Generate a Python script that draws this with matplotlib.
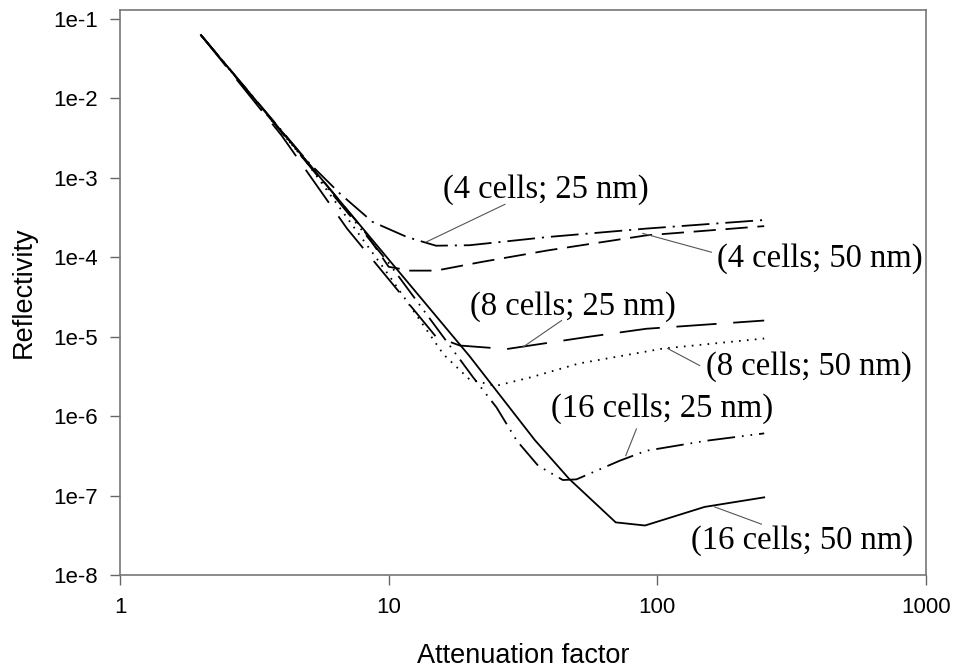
import matplotlib
matplotlib.use("Agg")
import matplotlib.pyplot as plt

# values (attenuation factor vs reflectivity)
x_4_25 = [2, 5, 6.6, 8.7, 11.7, 15, 20, 39, 91, 250]
r_4_25 = [6.3e-2, 1.6e-3, 6.3e-4, 2.8e-4, 1.8e-4, 1.4e-4, 1.42e-4, 1.8e-4, 2.3e-4, 2.95e-4]

x_4_50 = [2, 5, 8, 10, 12, 15, 22, 39, 91, 250]
r_4_50 = [6.3e-2, 1.56e-3, 2.3e-4, 7.6e-5, 6.8e-5, 6.8e-5, 8.7e-5, 1.22e-4, 1.89e-4, 2.47e-4]

x_8_25 = [2, 4, 7, 10, 15, 18.4, 27.5, 54.5, 91, 250]
r_8_25 = [6.3e-2, 3.4e-3, 2.3e-4, 5.3e-5, 1.0e-5, 7.75e-6, 7.0e-6, 9.9e-6, 1.26e-5, 1.6e-5]

x_8_50 = [2, 5, 10, 16, 20, 25, 34, 51, 105, 250]
r_8_50 = [6.3e-2, 1.5e-3, 6.0e-5, 6.0e-6, 2.9e-6, 2.4e-6, 3.1e-6, 4.6e-6, 7.1e-6, 9.5e-6]

x_16_25 = [2, 5, 10, 20.6, 25.2, 30, 36, 44.5, 50, 72.5, 91, 152, 250]
r_16_25 = [6.3e-2, 1.5e-3, 8.5e-5, 3.1e-6, 1.29e-6, 4.9e-7, 2.38e-7, 1.57e-7,
           1.6e-7, 2.75e-7, 3.67e-7, 4.9e-7, 6.07e-7]

x_16_50 = [2, 5, 10, 20, 35, 47, 70, 90, 150, 250]
r_16_50 = [6.3e-2, 1.56e-3, 9.4e-5, 5.7e-6, 5.0e-7, 1.62e-7, 4.6e-8, 4.2e-8, 7.2e-8, 9.5e-8]

labels = ["(4 cells; 25 nm)", "(4 cells; 50 nm)", "(8 cells; 25 nm)",
          "(8 cells; 50 nm)", "(16 cells; 25 nm)", "(16 cells; 50 nm)"]

x_ticks = [1, 10, 100, 1000]
x_tick_labels = ["1", "10", "100", "1000"]
y_ticks = [1e-1, 1e-2, 1e-3, 1e-4, 1e-5, 1e-6, 1e-7, 1e-8]
y_tick_labels = ["1e-1", "1e-2", "1e-3", "1e-4", "1e-5", "1e-6", "1e-7", "1e-8"]

series = [(x_4_25, r_4_25), (x_4_50, r_4_50), (x_8_25, r_8_25),
          (x_8_50, r_8_50), (x_16_25, r_16_25), (x_16_50, r_16_50)]
styles = [(0, (20, 5, 1.5, 5)),
          (0, (16, 7)),
          (0, (29, 12)),
          (0, (1.2, 4.5)),
          (0, (20, 5, 1.2, 5, 1.2, 5)),
          "-"]

# label text centre, leader start, leader end (data coords)
notes = [((38.4, 7.2e-4), (27.1, 4.65e-4), (13.8, 1.56e-4)),
         ((402, 9.7e-5), (159, 1.16e-4), (88.3, 2.0e-4)),
         ((48.4, 2.4e-5), (44, 1.6e-5), (31.6, 7.4e-6)),
         ((366, 4.2e-6), (143.8, 4.34e-6), (109.3, 7.1e-6)),
         ((104.3, 1.26e-6), (83.6, 6.9e-7), (76.3, 3.18e-7)),
         ((346, 2.69e-8), (244, 4.37e-8), (163.5, 7.2e-8))]

plt.rcParams['lines.scale_dashes'] = False
plt.rcParams['font.family'] = ['Liberation Sans', 'DejaVu Sans']

fig = plt.figure(figsize=(9.54, 6.69), dpi=100)
ax = fig.add_axes([0.1258, 0.1405, 0.8448, 0.8445])

for (xs, rs), ls in zip(series, styles):
    ax.plot(xs, rs, color="black", lw=1.3, linestyle=ls)

for text, (centre, p0, p1) in zip(labels, notes):
    ax.plot([p0[0], p1[0]], [p0[1], p1[1]], color="#555555", lw=0.8)
    ax.text(centre[0], centre[1], text, ha="center", va="center", fontsize=23.5,
            family="Liberation Serif")

ax.set_xscale("log")
ax.set_yscale("log")
ax.set_xlim(1, 1000)
ax.set_ylim(1e-8, 10 ** -0.8865)
ax.set_xticks(x_ticks)
ax.set_xticklabels(x_tick_labels)
ax.set_yticks(y_ticks)
ax.set_yticklabels(y_tick_labels)
ax.minorticks_off()
ax.tick_params(axis="both", direction="out", length=7, width=1, color="#666666",
               labelsize=16, pad=9)

for s in ax.spines.values():
    s.set_color("#777777")
    s.set_linewidth(1.2)

ax.set_xlabel("Attenuation factor", fontsize=19.5, labelpad=18)
ax.set_ylabel("Reflectivity", fontsize=19.5, labelpad=12)

fig.savefig("out.png", dpi=100)
